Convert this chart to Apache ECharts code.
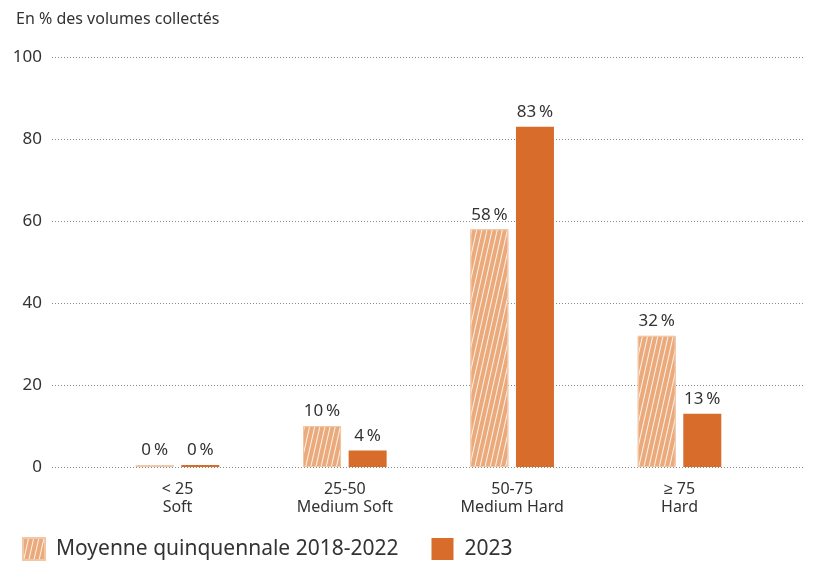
<!DOCTYPE html>
<html><head><meta charset="utf-8">
<script src="https://cdn.jsdelivr.net/npm/echarts@6/dist/echarts.min.js"></script>
<style>html,body{margin:0;padding:0;background:#fff}#c{width:817px;height:562px}</style>
</head><body><div id="c"></div>
<script>
const categories = ['< 25\nSoft', '25-50\nMedium Soft', '50-75\nMedium Hard', '≥ 75\nHard'];
const moyenne = [0, 10, 58, 32];
const y2023 = [0, 4, 83, 13];
const seriesNames = ['Moyenne quinquennale 2018-2022', '2023'];
const yTicks = [0, 20, 40, 60, 80, 100];

// pad categories with empty slots so that gridlines extend beyond the groups
function pad(arr, fill) {
  const out = [fill];
  arr.forEach(v => { out.push(v); out.push(fill); });
  return out;
}
const font = "'Noto Sans', sans-serif";
const chart = echarts.init(document.getElementById('c'), null, {renderer: 'canvas'});
const lbl = {
  show: true, position: 'top', distance: 6, color: '#333', fontSize: 17, fontFamily: font,
  formatter: p => (p.value === null ? '' : Math.round(p.value) + '\u2009%')
};
chart.setOption({
  animation: false,
  title: {text: 'En % des volumes collectés', left: 11, top: 6,
    textStyle: {fontSize: 16, fontWeight: 'normal', color: '#333', fontFamily: font}},
  grid: {left: 52, right: 12, top: 57, bottom: 95},
  legend: {
    left: 17, top: 532, itemWidth: 22, itemHeight: 22, itemGap: 33, icon: 'rect',
    textStyle: {fontSize: 21, color: '#333', fontFamily: font, padding: [0, 0, 0, 6]},
    data: seriesNames
  },
  xAxis: {
    type: 'category', data: pad(categories, ''),
    axisLine: {show: false}, axisTick: {show: false},
    axisLabel: {interval: 0, color: '#333', fontSize: 16, lineHeight: 18, margin: 13, fontFamily: font}
  },
  yAxis: {
    type: 'value', min: 0, max: 100, interval: 20,
    axisLine: {show: false}, axisTick: {show: false},
    axisLabel: {color: '#333', fontSize: 17, margin: 10, fontFamily: font,
      formatter: v => yTicks.includes(v) ? String(v) : ''},
    splitLine: {lineStyle: {type: [1, 2], color: '#888', width: 1}}
  },
  series: [
    {
      name: seriesNames[0], type: 'bar', barWidth: 38, barGap: '20%', barMinHeight: 2,
      data: pad(moyenne, null),
      itemStyle: {
        color: '#EBAA7B', borderColor: '#F1C7A6', borderWidth: 1,
        decal: {symbol: 'rect', dashArrayX: [1, 0], dashArrayY: [1, 4], rotation: -1.35, color: 'rgba(255,255,255,0.85)'}
      },
      label: lbl
    },
    {
      name: seriesNames[1], type: 'bar', barWidth: 38, barMinHeight: 2,
      data: pad(y2023, null),
      itemStyle: {color: '#D86C2A'},
      label: lbl
    }
  ]
});
</script></body></html>
